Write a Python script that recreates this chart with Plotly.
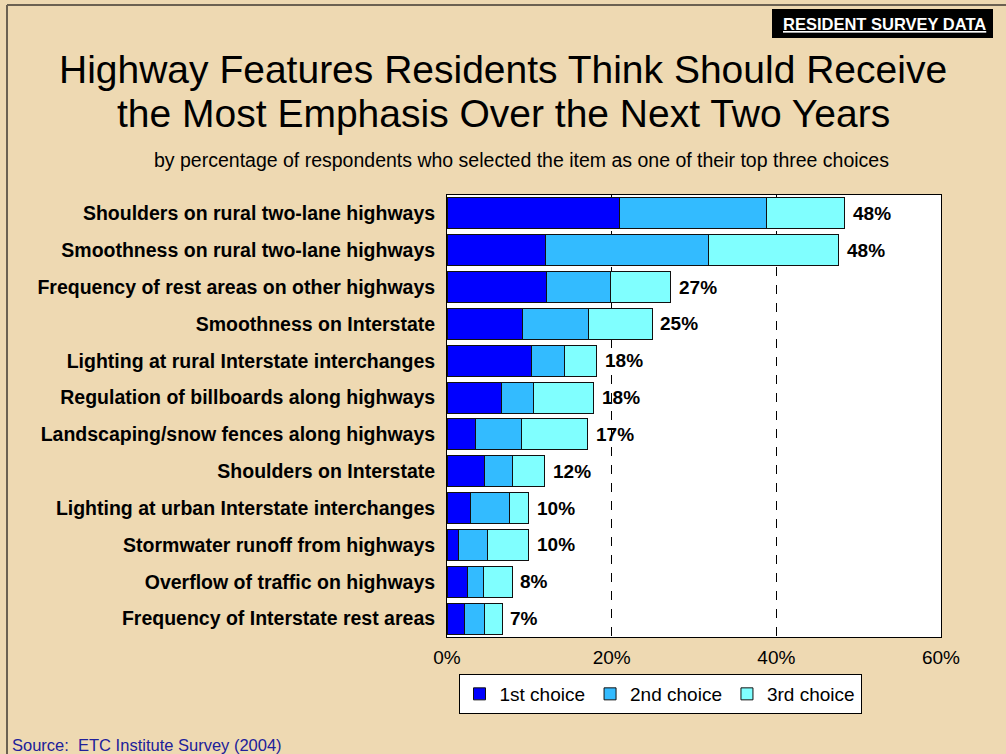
import plotly.graph_objects as go

# ---- data (top row first) ----
features = [
    'Shoulders on rural two-lane highways',
    'Smoothness on rural two-lane highways',
    'Frequency of rest areas on other highways',
    'Smoothness on Interstate',
    'Lighting at rural Interstate interchanges',
    'Regulation of billboards along highways',
    'Landscaping/snow fences along highways',
    'Shoulders on Interstate',
    'Lighting at urban Interstate interchanges',
    'Stormwater runoff from highways',
    'Overflow of traffic on highways',
    'Frequency of Interstate rest areas',
]
first_choice = [20.9, 12.0, 12.1, 9.2, 10.3, 6.6, 3.5, 4.5, 2.9, 1.4, 2.5, 2.1]
second_choice = [17.9, 19.8, 7.7, 8.0, 4.0, 3.9, 5.6, 3.5, 4.7, 3.5, 1.9, 2.5]
third_choice = [9.5, 15.8, 7.4, 7.7, 3.9, 7.3, 8.0, 3.9, 2.3, 5.0, 3.5, 2.1]
total_labels = ['48%', '48%', '27%', '25%', '18%', '18%', '17%', '12%', '10%', '10%', '8%', '7%']

x_ticks = [0, 20, 40, 60]
x_tick_text = ['0%', '20%', '40%', '60%']

title_lines = [
    'Highway Features Residents Think Should Receive',
    'the Most Emphasis Over the Next Two Years',
]

FONT = 'Arial, Liberation Sans, sans-serif'
BG = '#eed9b2'

# page geometry (pixels)
W, H = 1006, 754
L, R, T, B = 447, 65, 195, 117
PW, PH = W - L - R, H - T - B


def px_x(x):
    return (x - L) / PW


def px_y(y):
    return (H - B - y) / PH


totals = [a + b + c for a, b, c in zip(first_choice, second_choice, third_choice)]

fig = go.Figure()

series = [
    ('1st choice', first_choice, '#0000ff'),
    ('2nd choice', second_choice, '#33bbff'),
    ('3rd choice', third_choice, '#80ffff'),
]
for name, vals, col in series:
    fig.add_trace(go.Bar(
        y=features,
        x=vals,
        name=name,
        orientation='h',
        marker=dict(color=col, line=dict(color='#111111', width=1)),
        hoverinfo='x+name',
    ))

# total labels just past the end of each bar
for feat, tot, lab in zip(features, totals, total_labels):
    fig.add_annotation(
        x=tot, y=feat, text=lab,
        showarrow=False, xanchor='left', yanchor='middle', xshift=6,
        font=dict(family=FONT, size=19, color='black', weight='bold'),
    )

fig.update_layout(
    width=W,
    height=H,
    barmode='stack',
    bargap=0.16,
    paper_bgcolor=BG,
    plot_bgcolor='white',
    margin=dict(l=L, r=R, t=T, b=B),
    font=dict(family=FONT, size=19, color='black'),
    showlegend=True,
    legend=dict(
        orientation='h',
        traceorder='normal',
        x=px_x(660),
        y=px_y(674),
        xanchor='center',
        yanchor='top',
        bgcolor='white',
        bordercolor='black',
        borderwidth=1,
        font=dict(family=FONT, size=19, color='black'),
        itemwidth=30,
        tracegroupgap=0,
    ),
    xaxis=dict(
        range=[0, 60],
        tickvals=x_ticks,
        ticktext=x_tick_text,
        showgrid=True,
        gridcolor='black',
        griddash='dash',
        gridwidth=1,
        zeroline=False,
        showline=True,
        linecolor='black',
        linewidth=1,
        mirror=True,
        ticks='',
        ticklabelstandoff=3,
        tickfont=dict(family=FONT, size=19, color='black'),
    ),
    yaxis=dict(
        autorange='reversed',
        showgrid=False,
        showline=True,
        linecolor='black',
        linewidth=1,
        mirror=True,
        ticks='',
        ticklabelstandoff=7,
        tickfont=dict(family=FONT, size=19.5, color='black', weight='bold'),
    ),
)

# title, one annotation per line to keep the tighter line spacing
for line, ypx in zip(title_lines, [70, 113]):
    fig.add_annotation(
        xref='paper', yref='paper', x=px_x(503), y=px_y(ypx),
        text=line,
        showarrow=False, xanchor='center', yanchor='middle',
        font=dict(family=FONT, size=39, color='black'),
    )
fig.add_annotation(
    xref='paper', yref='paper', x=px_x(521), y=px_y(160),
    text='by percentage of respondents who selected the item as one of their top three choices',
    showarrow=False, xanchor='center', yanchor='middle',
    font=dict(family=FONT, size=19.5, color='black'),
)

# "RESIDENT SURVEY DATA" tag
fig.add_shape(
    type='rect', xref='paper', yref='paper',
    x0=px_x(772), x1=px_x(993), y0=px_y(38), y1=px_y(9),
    fillcolor='black', line=dict(width=0),
)
fig.add_annotation(
    xref='paper', yref='paper', x=px_x(884), y=px_y(24),
    text='<b><u>RESIDENT SURVEY DATA</u></b>',
    showarrow=False, xanchor='center', yanchor='middle',
    font=dict(family=FONT, size=16.5, color='white'),
)

# source
fig.add_annotation(
    xref='paper', yref='paper', x=px_x(10), y=px_y(745),
    text='Source:  ETC Institute Survey (2004)',
    showarrow=False, xanchor='left', yanchor='middle',
    font=dict(family=FONT, size=16.5, color='#20209a'),
)

# slide frame (top and left edges)
fig.add_shape(type='line', xref='paper', yref='paper',
              x0=px_x(7), x1=px_x(W), y0=px_y(5), y1=px_y(5),
              line=dict(color='#6b6152', width=2))
fig.add_shape(type='line', xref='paper', yref='paper',
              x0=px_x(7), x1=px_x(7), y0=px_y(5), y1=px_y(H),
              line=dict(color='#6b6152', width=2))

# drop the default page margin so the figure sits at the window's corner
fig.write_html('out.html', config={'displayModeBar': False},
               post_script="document.body.style.margin='0';")
